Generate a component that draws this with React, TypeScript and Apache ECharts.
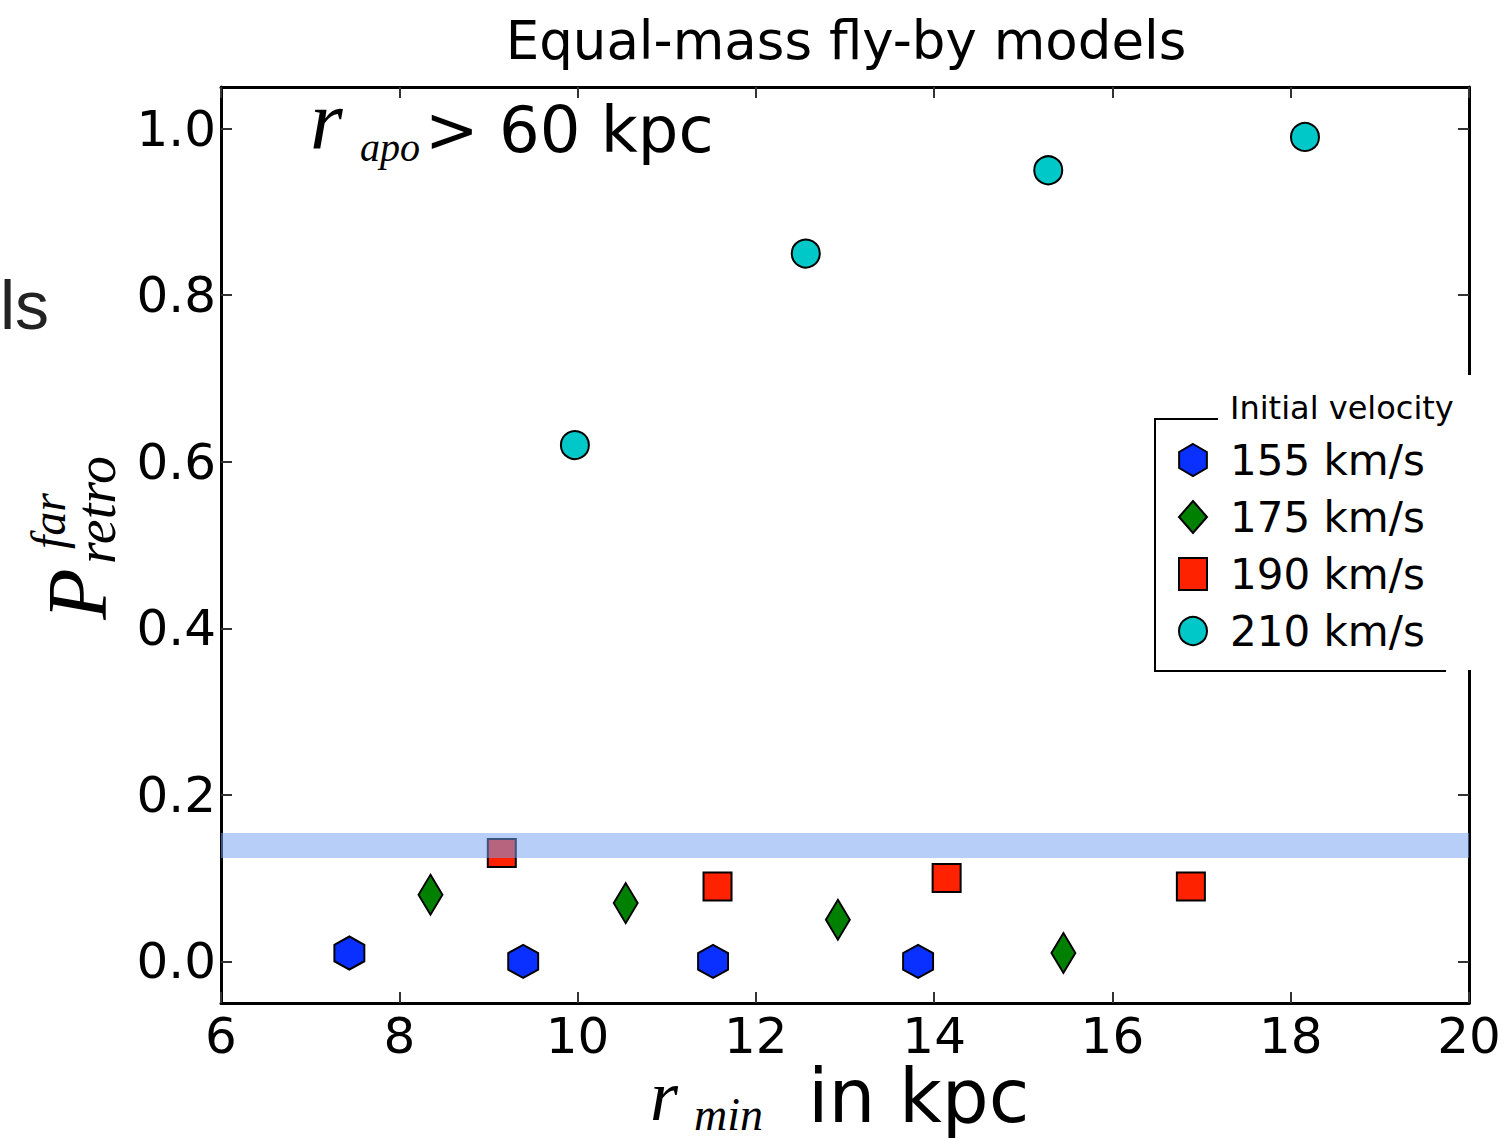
import React, { useEffect, useRef } from "react";
import * as echarts from "echarts";

const xMin = 6;
const xMax = 20;
const xInterval = 2;
const yMin = -0.05;
const yMax = 1.05;
const yTickValues = [0, 0.2, 0.4, 0.6, 0.8, 1.0];

const seriesNames = ["155 km/s", "175 km/s", "190 km/s", "210 km/s"];
const v155X = [7.44, 9.39, 11.52, 13.82];
const v155Y = [0.01, 0.0, 0.0, 0.0];
const v175X = [8.35, 10.54, 12.92, 15.45];
const v175Y = [0.08, 0.07, 0.05, 0.01];
const v190X = [9.15, 11.57, 14.14, 16.88];
const v190Y = [0.13, 0.09, 0.1, 0.09];
const v210X = [9.97, 12.56, 15.28, 18.16];
const v210Y = [0.62, 0.85, 0.95, 0.99];
const bandY = [0.124, 0.154];

const hexPath = "path://M0,-1L0.866,-0.5L0.866,0.5L0,1L-0.866,0.5L-0.866,-0.5Z";

const zip = (xs: number[], ys: number[]) => xs.map((x, i) => [x, ys[i]]);

const SANS = "DejaVu Sans";
const SERIF = "Liberation Serif";

export default function App() {
  const ref = useRef<HTMLDivElement>(null);
  useEffect(() => {
    document.body.style.margin = "0";
    const chart = echarts.init(ref.current!, null, { renderer: "svg" });
    const tick = { show: true, inside: true, length: 11, lineStyle: { color: "#333", width: 2 } };
    const line = { show: true, onZero: false, lineStyle: { color: "#000", width: 3 } };
    const border = { borderColor: "#000", borderWidth: 2, opacity: 1 };
    chart.setOption({
      animation: false,
      backgroundColor: "#fff",
      grid: { left: 221, right: 43, top: 87, bottom: 135, containLabel: false },
      xAxis: [
        {
          type: "value", min: xMin, max: xMax, interval: xInterval, position: "bottom",
          axisLine: line, axisTick: tick, splitLine: { show: false },
          axisLabel: { show: true, margin: 8, fontSize: 50, fontFamily: SANS, color: "#000" },
        },
        {
          type: "value", min: xMin, max: xMax, interval: xInterval, position: "top",
          axisLine: line, axisTick: tick, splitLine: { show: false }, axisLabel: { show: false },
        },
      ],
      yAxis: [
        {
          type: "value", min: yMin, max: yMax, position: "left",
          axisLine: line,
          axisTick: { ...tick, customValues: yTickValues },
          splitLine: { show: false },
          axisLabel: {
            show: true, margin: 5, fontSize: 50, fontFamily: SANS, color: "#000",
            customValues: yTickValues, formatter: (v: number) => v.toFixed(1),
          },
        },
        {
          type: "value", min: yMin, max: yMax, position: "right",
          axisLine: line,
          axisTick: { ...tick, customValues: yTickValues },
          splitLine: { show: false },
          axisLabel: { show: false, customValues: yTickValues },
        },
      ],
      legend: {
        show: true, orient: "vertical", left: 1178, top: 436, padding: 0, z: 10,
        itemWidth: 28, itemHeight: 32, itemGap: 9,
        data: seriesNames,
        textStyle: { fontSize: 42, fontFamily: SANS, color: "#000", lineHeight: 48, padding: [0, 0, 0, 18] },
      },
      series: [
        {
          type: "scatter", name: seriesNames[0], data: zip(v155X, v155Y), symbol: hexPath,
          symbolSize: [30, 33], itemStyle: { color: "#0a30ff", ...border }, z: 3,
        },
        {
          type: "scatter", name: seriesNames[1], data: zip(v175X, v175Y), symbol: "diamond",
          symbolSize: [24, 40], itemStyle: { color: "#008000", ...border }, z: 3,
        },
        {
          type: "scatter", name: seriesNames[2], data: zip(v190X, v190Y), symbol: "rect",
          symbolSize: [28, 28], itemStyle: { color: "#ff2200", ...border }, z: 3,
        },
        {
          type: "scatter", name: seriesNames[3], data: zip(v210X, v210Y), symbol: "circle",
          symbolSize: 28, itemStyle: { color: "#00c8c8", ...border }, z: 3,
        },
        {
          type: "scatter", name: "band", data: [], z: 5,
          markArea: {
            silent: true, z: 5,
            itemStyle: { color: "rgba(117,162,241,0.52)" },
            data: [[{ xAxis: xMin, yAxis: bandY[0] }, { xAxis: xMax, yAxis: bandY[1] }]],
          },
        },
      ],
      graphic: [
        { type: "rect", z: 3, shape: { x: 1218, y: 375, width: 294, height: 295 }, style: { fill: "#fff" } },
        {
          type: "polyline", z: 11,
          shape: { points: [[1218, 419], [1155, 419], [1155, 671], [1446, 671]] },
          style: { stroke: "#000", lineWidth: 2, fill: null },
        },
        { type: "text", z: 11, x: 1230, y: 408, style: { text: "Initial velocity", font: `32px '${SANS}'`, fill: "#000", align: "left", verticalAlign: "middle" } },
        { type: "text", z: 11, x: 846, y: 40, style: { text: "Equal-mass fly-by models", font: `53px '${SANS}'`, fill: "#000", align: "center", verticalAlign: "middle" } },
        { type: "text", z: 11, x: 0, y: 305, style: { text: "ls", font: `68px 'Liberation Sans'`, fill: "#222", align: "left", verticalAlign: "middle" } },
        // r_apo > 60 kpc
        { type: "text", z: 11, x: 310, y: 120, style: { text: "r", font: `italic 84px '${SERIF}'`, fill: "#000", align: "left", verticalAlign: "middle" } },
        { type: "text", z: 11, x: 360, y: 147, style: { text: "apo", font: `italic 40px '${SERIF}'`, fill: "#000", align: "left", verticalAlign: "middle" } },
        { type: "text", z: 11, x: 425, y: 130, style: { text: "> 60 kpc", font: `64px '${SANS}'`, fill: "#000", align: "left", verticalAlign: "middle" } },
        // x label
        { type: "text", z: 11, x: 650, y: 1096, style: { text: "r", font: `italic 72px '${SERIF}'`, fill: "#000", align: "left", verticalAlign: "middle" } },
        { type: "text", z: 11, x: 694, y: 1114, style: { text: "min", font: `italic 46px '${SERIF}'`, fill: "#000", align: "left", verticalAlign: "middle" } },
        { type: "text", z: 11, x: 808, y: 1096, style: { text: "in kpc", font: `74px '${SANS}'`, fill: "#000", align: "left", verticalAlign: "middle" } },
        // y label
        { type: "text", z: 11, x: 77, y: 594, rotation: Math.PI / 2, style: { text: "P", font: `italic 84px '${SERIF}'`, fill: "#000", align: "center", verticalAlign: "middle" } },
        { type: "text", z: 11, x: 48, y: 521, rotation: Math.PI / 2, style: { text: "far", font: `italic 48px '${SERIF}'`, fill: "#000", align: "center", verticalAlign: "middle" } },
        { type: "text", z: 11, x: 96, y: 510, rotation: Math.PI / 2, style: { text: "retro", font: `italic 56px '${SERIF}'`, fill: "#000", align: "center", verticalAlign: "middle" } },
      ],
    });
    return () => chart.dispose();
  }, []);
  return <div ref={ref} style={{ position: "absolute", left: 0, top: 0, width: 1512, height: 1138 }} />;
}
